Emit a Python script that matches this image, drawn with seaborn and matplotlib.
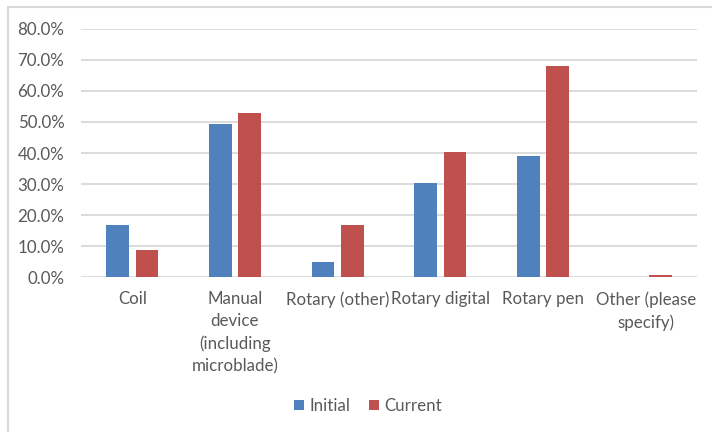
import matplotlib
matplotlib.use("Agg")
import matplotlib.pyplot as plt
from matplotlib.ticker import PercentFormatter, MultipleLocator
from matplotlib.lines import Line2D
import pandas as pd
import seaborn as sns

# Device categories and share of respondents for each period
devices = [
    "Coil",
    "Manual\ndevice\n(including\nmicroblade)",
    "Rotary (other)",
    "Rotary digital",
    "Rotary pen",
    "Other (please\nspecify)",
]
initial = [0.168, 0.493, 0.049, 0.303, 0.389, 0.0]
current = [0.087, 0.530, 0.168, 0.404, 0.680, 0.006]
periods = ["Initial", "Current"]
colors = ["#4F81BD", "#C0504D"]

df = pd.DataFrame({
    "device": devices * 2,
    "share": initial + current,
    "period": [periods[0]] * len(devices) + [periods[1]] * len(devices),
})

sns.set_style("white")
plt.rcParams["font.family"] = ["Lato", "DejaVu Sans"]
text_color = "#595959"
grid_color = "#D9D9D9"
fs = 12.2

fig = plt.figure(figsize=(7.12, 4.32), dpi=100)
ax = fig.add_axes([81 / 712, 1 - 277.3 / 432, (697 - 81) / 712, (277.3 - 28.7) / 432])

sns.barplot(
    data=df, x="device", y="share", hue="period", order=devices,
    hue_order=periods, palette=colors, width=0.573, gap=0.228,
    saturation=1, linewidth=0, ax=ax, legend=False,
)

ax.set_ylim(0, 0.8)
ax.yaxis.set_major_locator(MultipleLocator(0.1))
ax.yaxis.set_major_formatter(PercentFormatter(1.0, decimals=1))
ax.set_xlabel("")
ax.set_ylabel("")
ax.set_axisbelow(True)
ax.yaxis.grid(True, color=grid_color, linewidth=1.3)
for s in ax.spines.values():
    s.set_visible(False)
ax.tick_params(axis="y", length=0, pad=12, labelsize=fs, labelcolor=text_color)
ax.tick_params(axis="x", length=0, pad=10, labelsize=fs, labelcolor=text_color)
for lbl in ax.get_xticklabels():
    lbl.set_linespacing(1.46)
    lbl.set_verticalalignment("top")

# Legend below the plot
handles = [
    Line2D([], [], marker="s", linestyle="none", markersize=7,
           markerfacecolor=c, markeredgewidth=0, label=p)
    for p, c in zip(periods, colors)
]
fig.legend(
    handles=handles, loc="center", bbox_to_anchor=(366 / 712, 1 - 406 / 432),
    ncol=2, frameon=False, fontsize=fs, labelcolor=text_color,
    handletextpad=0.1, columnspacing=0.9, handlelength=1.0,
)

# Chart frame (left and top edges)
fig.add_artist(Line2D([7.5 / 712, 7.5 / 712], [0, 1 - 7 / 432],
                      transform=fig.transFigure, color=grid_color, linewidth=1.5))
fig.add_artist(Line2D([7.5 / 712, 1], [1 - 7 / 432, 1 - 7 / 432],
                      transform=fig.transFigure, color=grid_color, linewidth=1.5))

fig.savefig("out.png", dpi=100, facecolor="white")
